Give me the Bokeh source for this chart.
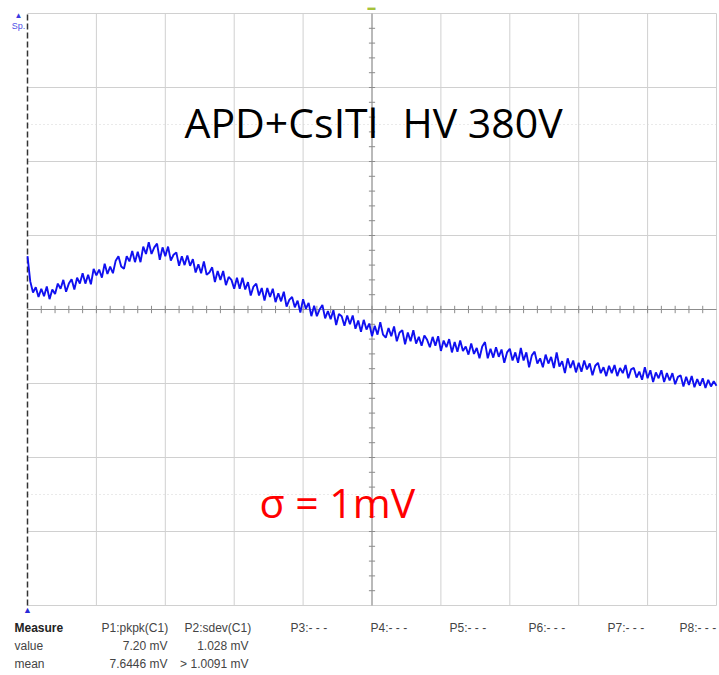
from bokeh.plotting import figure
from bokeh.models import Label, ColumnDataSource
from bokeh.embed import file_html
from bokeh.resources import INLINE

# ---- data (trace level in screen divisions, one sample every 0.04 div) ----
trace_div = [
    0.72, 0.38, 0.23, 0.30, 0.17, 0.28, 0.18, 0.31, 0.14, 0.27,
    0.21, 0.35, 0.28, 0.40, 0.24, 0.35, 0.41, 0.27, 0.43, 0.35,
    0.49, 0.35, 0.47, 0.34, 0.55, 0.46, 0.54, 0.43, 0.62, 0.48,
    0.58, 0.49, 0.66, 0.72, 0.58, 0.55, 0.72, 0.65, 0.79, 0.64,
    0.78, 0.64, 0.85, 0.75, 0.91, 0.75, 0.84, 0.89, 0.67, 0.84,
    0.72, 0.85, 0.66, 0.74, 0.77, 0.59, 0.72, 0.60, 0.73, 0.59,
    0.68, 0.50, 0.61, 0.49, 0.65, 0.47, 0.50, 0.57, 0.37, 0.52,
    0.40, 0.52, 0.33, 0.44, 0.40, 0.28, 0.43, 0.28, 0.43, 0.27,
    0.37, 0.19, 0.31, 0.35, 0.19, 0.29, 0.12, 0.29, 0.17, 0.28,
    0.10, 0.22, 0.11, 0.24, 0.04, 0.13, 0.17, 0.03, 0.12, -0.04,
    0.14, 0.01, 0.09, -0.09, 0.05, -0.09, 0.00, 0.06, -0.12, -0.02,
    -0.13, -0.01, -0.21, -0.06, -0.09, -0.22, -0.08, -0.20, -0.08, -0.26,
    -0.15, -0.30, -0.14, -0.27, -0.19, -0.36, -0.22, -0.34, -0.17, -0.34,
    -0.38, -0.25, -0.36, -0.23, -0.43, -0.31, -0.28, -0.47, -0.31, -0.43,
    -0.28, -0.46, -0.37, -0.49, -0.35, -0.41, -0.51, -0.37, -0.49, -0.36,
    -0.56, -0.42, -0.51, -0.40, -0.58, -0.44, -0.57, -0.42, -0.56, -0.50,
    -0.61, -0.46, -0.60, -0.52, -0.66, -0.50, -0.44, -0.66, -0.53, -0.65,
    -0.51, -0.64, -0.54, -0.72, -0.58, -0.53, -0.69, -0.58, -0.72, -0.52,
    -0.69, -0.58, -0.78, -0.62, -0.57, -0.73, -0.66, -0.78, -0.61, -0.73,
    -0.64, -0.79, -0.58, -0.77, -0.70, -0.86, -0.66, -0.79, -0.69, -0.85,
    -0.72, -0.84, -0.69, -0.81, -0.73, -0.89, -0.76, -0.72, -0.86, -0.78,
    -0.90, -0.76, -0.86, -0.75, -0.90, -0.79, -0.86, -0.75, -0.93, -0.81,
    -0.79, -0.92, -0.84, -0.95, -0.78, -0.93, -0.82, -0.98, -0.85, -0.93,
    -0.82, -0.98, -0.86, -0.96, -0.86, -1.01, -0.91, -0.89, -1.04, -0.91,
    -1.02, -0.90, -1.05, -0.94, -1.03, -0.93, -1.06, -0.95, -1.04, -0.97, -1.03,
]
sample_step = 0.04
time_div = [round(i * sample_step, 2) for i in range(len(trace_div))]

title_parts = ["APD+CsITl", "HV 380V"]
sigma_text = "σ = 1mV"
row_names = ["Measure", "value", "mean"]
param_names = ["P1:pkpk(C1)", "P2:sdev(C1)", "P3:- - -", "P4:- - -",
               "P5:- - -", "P6:- - -", "P7:- - -", "P8:- - -"]
p1_values = ["7.20 mV", "7.6446 mV"]
p2_values = ["1.028 mV", "> 1.0091 mV"]

# ---- geometry: graticule box in page pixels, 10 x 8 divisions ----
W, H = 719, 675
GL, GR, GT, GB = 27, 716, 13, 605
gw, gh = GR - GL, GB - GT
def sx(px):
    return (px - GL) / gw * 10.0
def sy(py):
    return (GT + gh / 2 - py) / gh * 8.0

p = figure(width=W, height=H, output_backend="svg", toolbar_location=None,
           x_range=(sx(0), sx(W)), y_range=(sy(H), sy(0)),
           x_axis_location=None, y_axis_location=None,
           min_border=0, min_border_left=0, min_border_right=0,
           min_border_top=0, min_border_bottom=0)
p.outline_line_color = None
p.background_fill_color = "white"
p.border_fill_color = "white"
p.xgrid.visible = False
p.ygrid.visible = False

# graticule
gx = list(range(1, 11))
gy = list(range(-4, 5))
p.segment(x0=gx, y0=[-4] * len(gx), x1=gx, y1=[4] * len(gx),
          line_color="#d0d0d0", line_width=1)
p.segment(x0=[0] * len(gy), y0=gy, x1=[10] * len(gy), y1=gy,
          line_color="#d0d0d0", line_width=1)
p.segment(x0=[0, 0], y0=[2.5, -2.5], x1=[10, 10], y1=[2.5, -2.5],
          line_color="#d4d4d4", line_width=1, line_dash="1 3")

# center cross with small ticks
p.segment(x0=[5, 0], y0=[-4, 0], x1=[5, 10], y1=[4, 0], line_color="#8c8c8c", line_width=1)
tx = [i * 0.2 for i in range(1, 50)]
ty = [-4 + i * 0.2 for i in range(1, 40)]
p.segment(x0=tx, y0=[-0.05] * len(tx), x1=tx, y1=[0.05] * len(tx),
          line_color="#8c8c8c", line_width=1)
p.segment(x0=[4.955] * len(ty), y0=ty, x1=[5.045] * len(ty), y1=ty,
          line_color="#8c8c8c", line_width=1)

# left edge dashed
p.segment(x0=[0], y0=[-4], x1=[0], y1=[4], line_color="#333333",
          line_dash="6 3", line_width=1.5)

# trace
src = ColumnDataSource(dict(t=time_div, v=trace_div))
p.line("t", "v", source=src, line_color="#1010f0", line_width=1.9)

# annotation texts
for txt, px in zip(title_parts, (184, 402)):
    p.add_layout(Label(x=sx(px), y=sy(121), text=txt, text_align="left",
                       text_baseline="middle", text_font="Open Sans",
                       text_font_size="41px", text_color="black"))
p.add_layout(Label(x=sx(259), y=sy(501), text=sigma_text, text_align="left",
                   text_baseline="middle", text_font="Open Sans",
                   text_font_size="41px", text_color="#ff0000"))

# small scope markers
p.add_layout(Label(x=sx(18), y=sy(15), text="▲", text_align="center",
                   text_baseline="middle", text_font_size="8px", text_color="#3a3ae0"))
p.add_layout(Label(x=sx(18), y=sy(25), text="Sp.", text_align="center",
                   text_baseline="middle", text_font="Liberation Sans",
                   text_font_size="9px", text_color="#5050e6"))
p.add_layout(Label(x=sx(27), y=sy(609), text="▲", text_align="center",
                   text_baseline="middle", text_font_size="9px", text_color="#2a2ad8"))
p.add_layout(Label(x=sx(371), y=sy(7), text="▬", text_align="center",
                   text_baseline="middle", text_font_size="8px", text_color="#a6c23a"))

# measurement table
row_py = [627, 645, 663]
for name, py in zip(row_names, row_py):
    p.add_layout(Label(x=sx(14), y=sy(py), text=name, text_align="left",
                       text_baseline="middle", text_font="Liberation Sans",
                       text_font_size="12px",
                       text_font_style="bold" if name == "Measure" else "normal",
                       text_color="#222222" if name == "Measure" else "#444444"))
param_px = [101, 184, 290, 370, 449, 528, 607, 679]
for name, px in zip(param_names, param_px):
    p.add_layout(Label(x=sx(px), y=sy(627), text=name, text_align="left",
                       text_baseline="middle", text_font="Liberation Sans",
                       text_font_size="12px", text_color="#444444"))
for vals, px in ((p1_values, 167), (p2_values, 248)):
    for txt, py in zip(vals, row_py[1:]):
        p.add_layout(Label(x=sx(px), y=sy(py), text=txt, text_align="right",
                           text_baseline="middle", text_font="Liberation Sans",
                           text_font_size="12px", text_color="#444444"))

open("out.html", "w").write(file_html(p, INLINE))
